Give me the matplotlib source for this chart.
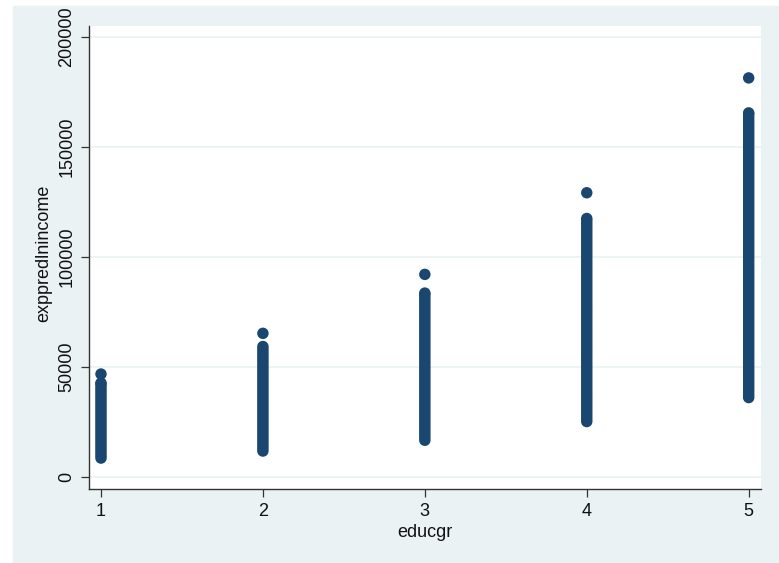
import matplotlib.pyplot as plt
from matplotlib.patches import Rectangle

# === Dati (exppredlnincome per gruppo educgr) ===
educ_groups = [1, 2, 3, 4, 5]

income_g1 = [8600, 9850, 11100, 12350, 13600, 14850, 16100, 17350, 18600,
             19850, 21100, 22350, 23600, 24850, 26100, 27350, 28600, 29850,
             31100, 32350, 33600, 34850, 36100, 37350, 38600, 39850, 41100,
             42350, 42700, 46800]
income_g2 = [11800, 13050, 14300, 15550, 16800, 18050, 19300, 20550, 21800,
             23050, 24300, 25550, 26800, 28050, 29300, 30550, 31800, 33050,
             34300, 35550, 36800, 38050, 39300, 40550, 41800, 43050, 44300,
             45550, 46800, 48050, 49300, 50550, 51800, 53050, 54300, 55550,
             56800, 58050, 59300, 65300]
income_g3 = [16700, 17950, 19200, 20450, 21700, 22950, 24200, 25450, 26700,
             27950, 29200, 30450, 31700, 32950, 34200, 35450, 36700, 37950,
             39200, 40450, 41700, 42950, 44200, 45450, 46700, 47950, 49200,
             50450, 51700, 52950, 54200, 55450, 56700, 57950, 59200, 60450,
             61700, 62950, 64200, 65450, 66700, 67950, 69200, 70450, 71700,
             72950, 74200, 75450, 76700, 77950, 79200, 80450, 81700, 82950,
             83600, 92100]
income_g4 = [25200, 26450, 27700, 28950, 30200, 31450, 32700, 33950, 35200,
             36450, 37700, 38950, 40200, 41450, 42700, 43950, 45200, 46450,
             47700, 48950, 50200, 51450, 52700, 53950, 55200, 56450, 57700,
             58950, 60200, 61450, 62700, 63950, 65200, 66450, 67700, 68950,
             70200, 71450, 72700, 73950, 75200, 76450, 77700, 78950, 80200,
             81450, 82700, 83950, 85200, 86450, 87700, 88950, 90200, 91450,
             92700, 93950, 95200, 96450, 97700, 98950, 100200, 101450, 102700,
             103950, 105200, 106450, 107700, 108950, 110200, 111450, 112700,
             113950, 115200, 116450, 117500, 129200]
income_g5 = [36100, 37350, 38600, 39850, 41100, 42350, 43600, 44850, 46100,
             47350, 48600, 49850, 51100, 52350, 53600, 54850, 56100, 57350,
             58600, 59850, 61100, 62350, 63600, 64850, 66100, 67350, 68600,
             69850, 71100, 72350, 73600, 74850, 76100, 77350, 78600, 79850,
             81100, 82350, 83600, 84850, 86100, 87350, 88600, 89850, 91100,
             92350, 93600, 94850, 96100, 97350, 98600, 99850, 101100, 102350,
             103600, 104850, 106100, 107350, 108600, 109850, 111100, 112350,
             113600, 114850, 116100, 117350, 118600, 119850, 121100, 122350,
             123600, 124850, 126100, 127350, 128600, 129850, 131100, 132350,
             133600, 134850, 136100, 137350, 138600, 139850, 141100, 142350,
             143600, 144850, 146100, 147350, 148600, 149850, 151100, 152350,
             153600, 154850, 156100, 157350, 158600, 159850, 161100, 162350,
             163600, 164850, 165500, 181400]

y_ticks = [0, 50000, 100000, 150000, 200000]

incomes = [income_g1, income_g2, income_g3, income_g4, income_g5]

# === Colori stile Stata s2color ===
bg_color = "#eaf2f3"
marker_color = "#1a476f"

plt.rcParams["font.family"] = ["Liberation Sans", "DejaVu Sans"]

fig = plt.figure(figsize=(7.79, 5.63), dpi=100, facecolor="white")
fig.patches.append(Rectangle((13 / 779, 0), 1 - 13 / 779, (563 - 6) / 563,
                             transform=fig.transFigure, color=bg_color, zorder=-1))

ax = fig.add_axes([89 / 779, (563 - 489) / 563, 672 / 779, 463 / 563])
ax.set_facecolor("white")

xs, ys = [], []
for g, vals in zip(educ_groups, incomes):
    xs += [g] * len(vals)
    ys += vals
ax.scatter(xs, ys, s=68, color=marker_color, edgecolors="none", zorder=3)

ax.set_xlim(0.926, 5.076)
ax.set_ylim(-5455, 205000)
ax.set_xticks(educ_groups)
ax.set_yticks(y_ticks)
ax.set_yticklabels([str(t) for t in y_ticks], rotation=90, va="center")

ax.grid(True, axis="y", color=bg_color, linewidth=1.2, zorder=0)
ax.set_axisbelow(True)

for side in ["top", "right"]:
    ax.spines[side].set_visible(False)
for side in ["left", "bottom"]:
    ax.spines[side].set_color("#333333")
    ax.spines[side].set_linewidth(1.0)

ax.tick_params(axis="both", direction="out", length=5.8, width=0.9,
               color="#333333", labelsize=13, labelcolor="#111111")
ax.tick_params(axis="x", pad=4)
ax.tick_params(axis="y", pad=4)

ax.set_xlabel("educgr", fontsize=13, color="#111111")
ax.set_ylabel("exppredlnincome", fontsize=13, color="#111111")
ax.xaxis.set_label_coords(0.5, -0.075)
ax.yaxis.set_label_coords(-0.054, 0.51)

fig.savefig("out.png", dpi=100, facecolor=fig.get_facecolor())
